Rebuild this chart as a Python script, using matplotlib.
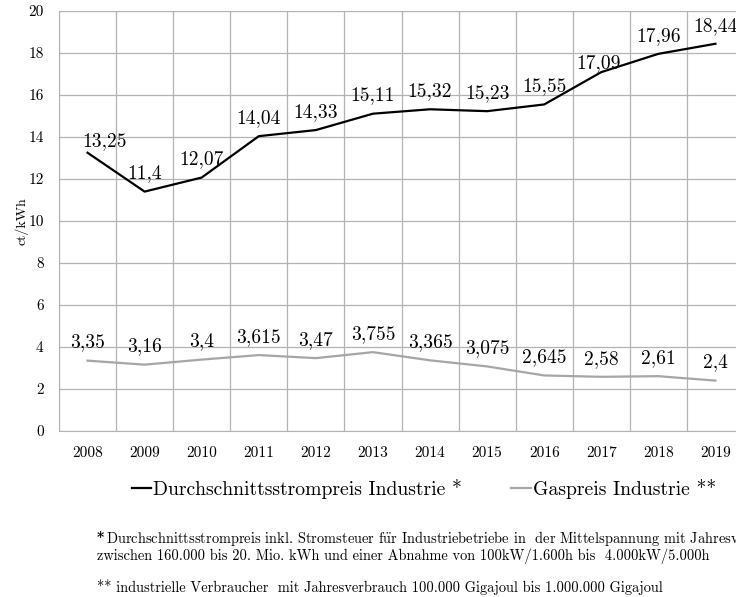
import matplotlib
matplotlib.use("Agg")
import matplotlib.pyplot as plt
import numpy as np

plt.rcParams['font.family'] = ['cmr10', 'DejaVu Serif']
plt.rcParams['axes.formatter.use_mathtext'] = True
plt.rcParams['mathtext.fontset'] = 'cm'

years = ["2008", "2009", "2010", "2011", "2012", "2013",
         "2014", "2015", "2016", "2017", "2018", "2019"]
strom = [13.25, 11.4, 12.07, 14.04, 14.33, 15.11, 15.32, 15.23, 15.55, 17.09, 17.96, 18.44]
gas = [3.35, 3.16, 3.4, 3.615, 3.47, 3.755, 3.365, 3.075, 2.645, 2.58, 2.61, 2.4]
strom_labels = ["13,25", "11,4", "12,07", "14,04", "14,33", "15,11",
                "15,32", "15,23", "15,55", "17,09", "17,96", "18,44"]
gas_labels = ["3,35", "3,16", "3,4", "3,615", "3,47", "3,755",
              "3,365", "3,075", "2,645", "2,58", "2,61", "2,4"]
yticks = [0, 2, 4, 6, 8, 10, 12, 14, 16, 18, 20]

W, H = 736, 597
fig = plt.figure(figsize=(W / 100, H / 100), dpi=100)
ax = fig.add_axes([59 / W, (H - 431) / H, (744 - 59) / W, (431 - 11) / H])

x = np.arange(len(years))
grid_col = "#b3b3b3"
ax.plot(x, strom, color="black", lw=1.6, label="Durchschnittsstrompreis Industrie *")
ax.plot(x, gas, color="#a6a6a6", lw=1.6, label="Gaspreis Industrie **")

# a couple of labels were moved by hand in the original
moved = {0: (12, 8), 9: (-2, 6.5)}
for i, (xi, v, s) in enumerate(zip(x, strom, strom_labels)):
    ax.annotate(s, (xi, v), xytext=moved.get(i, (0, 13)), textcoords="offset points",
                ha="center", va="center", fontsize=14)
for xi, v, s in zip(x, gas, gas_labels):
    ax.annotate(s, (xi, v), xytext=(0, 13), textcoords="offset points",
                ha="center", va="center", fontsize=14)

ax.set_xlim(-0.5, len(years) - 0.5)
ax.set_ylim(0, 20)
ax.set_yticks(yticks)
ax.set_yticklabels([str(t) for t in yticks], fontsize=11)
ax.set_xticks(x)
ax.set_xticklabels(years, fontsize=11)
ax.set_xticks(np.arange(len(years) + 1) - 0.5, minor=True)
ax.tick_params(axis="both", which="both", length=0)
ax.tick_params(axis="x", pad=11)
ax.tick_params(axis="y", pad=11)
ax.grid(False)
for t in yticks:
    ax.axhline(t, color=grid_col, lw=0.9, zorder=0)
ax.grid(which="minor", axis="x", color=grid_col, lw=0.9)
for sp in ["top", "right"]:
    ax.spines[sp].set_visible(False)
ax.spines["left"].set_color(grid_col)
ax.spines["bottom"].set_color(grid_col)
ax.set_ylabel("ct/kWh", fontsize=10, labelpad=0)

fig.legend(loc="center", bbox_to_anchor=(424 / W, 1 - 489 / H), ncol=2,
           frameon=False, fontsize=14.2, handlelength=1.0, handletextpad=0.1,
           columnspacing=2.5)

fig.text(97 / W, 1 - 538 / H, "*", fontsize=10, fontweight="bold", va="center",
         family="DejaVu Serif")
fig.text(106 / W, 1 - 538 / H,
         r"Durchschnittsstrompreis inkl. Stromsteuer f$\ddot{\rm u}$r Industriebetriebe in  der Mittelspannung mit Jahresverbrauch",
         fontsize=10.4, va="center")
fig.text(97 / W, 1 - 556 / H,
         "zwischen 160.000 bis 20. Mio. kWh und einer Abnahme von 100kW/1.600h bis  4.000kW/5.000h",
         fontsize=10.4, va="center")
fig.text(97 / W, 1 - 587 / H,
         "** industrielle Verbraucher  mit Jahresverbrauch 100.000 Gigajoul bis 1.000.000 Gigajoul",
         fontsize=10.4, va="center")

fig.savefig("out.png", dpi=100)
